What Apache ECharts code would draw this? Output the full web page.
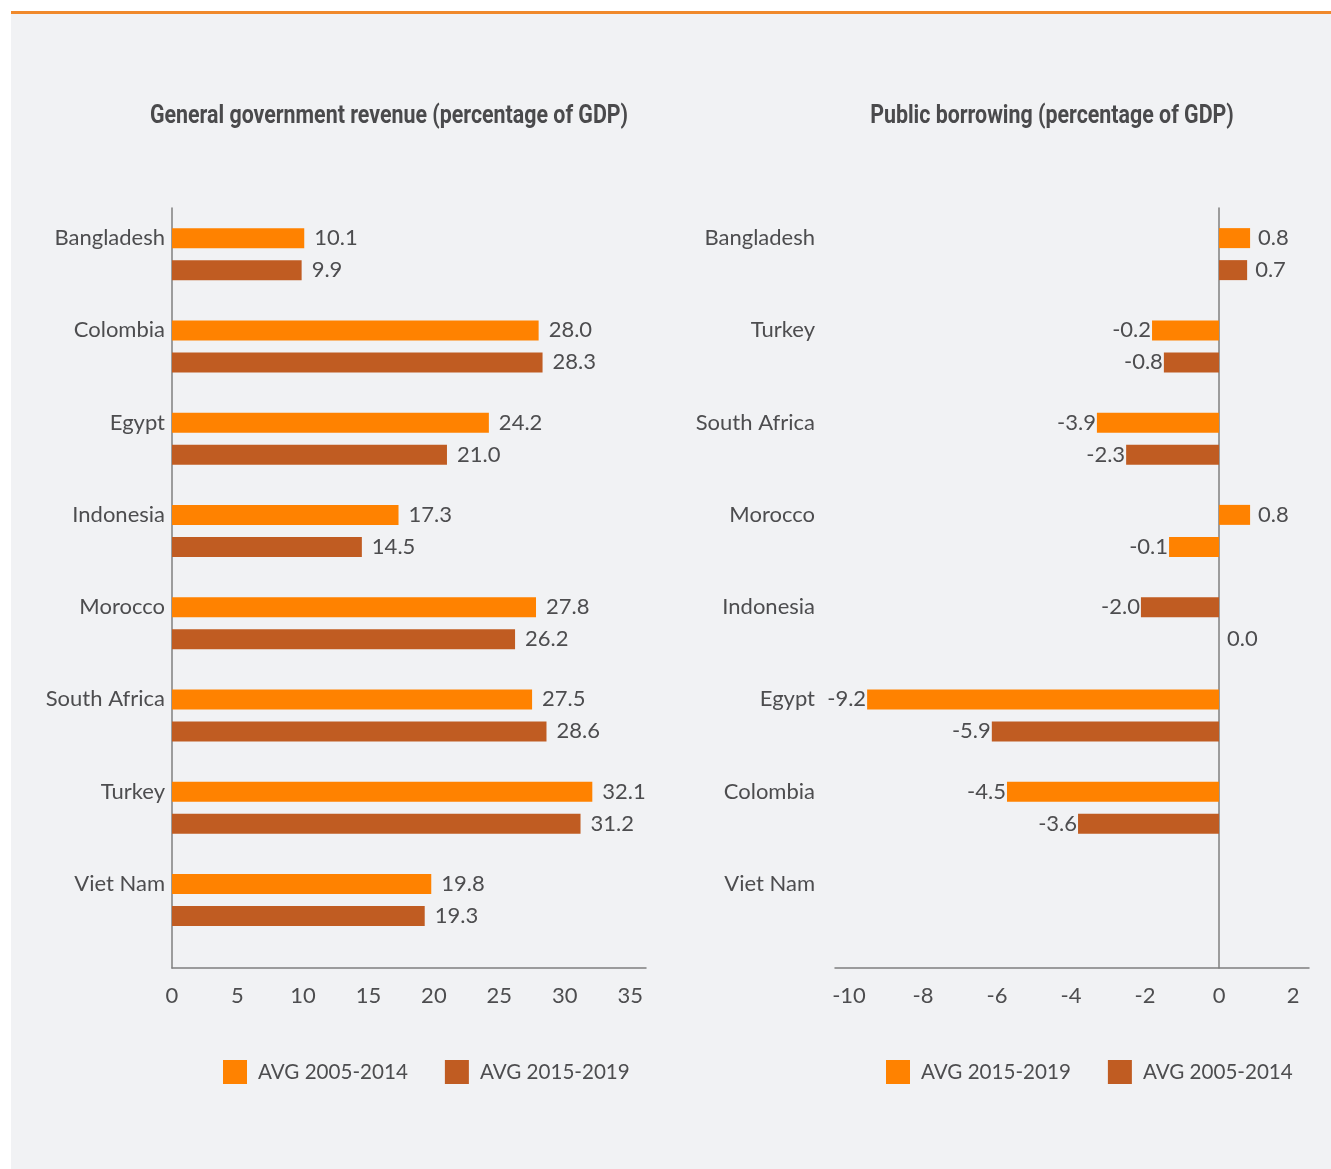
<!DOCTYPE html>
<html>
<head>
<meta charset="utf-8">
<script src="https://cdn.jsdelivr.net/npm/echarts@6/dist/echarts.min.js"></script>
<style>
    html, body { margin: 0; padding: 0; background: #fff; width: 1331px; height: 1169px; overflow: hidden; }
    #panel { position: absolute; left: 11px; top: 11px; width: 1320px; height: 1155px; background: #f1f2f4; border-top: 3px solid #f0892b; }
    #revenue { position: absolute; left: 0; top: 0; width: 665px; height: 1169px; }
    #borrowing { position: absolute; left: 665px; top: 0; width: 666px; height: 1169px; }
</style>
</head>
<body>
<div id="panel"></div>
<div id="revenue"></div>
<div id="borrowing"></div>
<script>
// General government revenue (% of GDP)
const revenueCountries = ['Bangladesh', 'Colombia', 'Egypt', 'Indonesia', 'Morocco', 'South Africa', 'Turkey', 'Viet Nam'];
const revenueAvg0514 = [10.1, 28.0, 24.2, 17.3, 27.8, 27.5, 32.1, 19.8];
const revenueAvg1519 = [9.9, 28.3, 21.0, 14.5, 26.2, 28.6, 31.2, 19.3];
const revenueTicks = [0, 5, 10, 15, 20, 25, 30, 35];

// Public borrowing (% of GDP)
// the source chart's bar lengths and printed labels don't agree, so both are kept as drawn
const borrowCountries = ['Bangladesh', 'Turkey', 'South Africa', 'Morocco', 'Indonesia', 'Egypt', 'Colombia', 'Viet Nam'];
const borrowUpperBars = [0.84, -1.81, -3.30, 0.84, -2.11, -9.51, -5.73, null];
const borrowUpperShown = [0.8, -0.2, -3.9, 0.8, -2.0, -9.2, -4.5, null];
const borrowUpperPeriod = ['2015-2019', '2015-2019', '2015-2019', '2015-2019', '2005-2014', '2015-2019', '2015-2019', null];
const borrowLowerBars = [0.76, -1.49, -2.51, -1.35, 0, -6.14, -3.81, null];
const borrowLowerShown = [0.7, -0.8, -2.3, -0.1, 0.0, -5.9, -3.6, null];
const borrowLowerPeriod = ['2005-2014', '2005-2014', '2005-2014', '2015-2019', '2005-2014', '2005-2014', '2005-2014', null];
const borrowTicks = [-10, -8, -6, -4, -2, 0, 2];

const ORANGE = '#ff8200';
const BROWN = '#c05c22';
const TEXT = '#4d4d4f';
const AXIS = '#7f7f7f';
const FONT = "Lato, 'Open Sans', sans-serif";

const labelText = {fontSize: 22, color: TEXT, fontFamily: FONT};

// grid 0 holds the bars, grid 1 only draws the axis lines and tick labels (it runs a bit lower)
function baseOption(o) {
    return {
        animation: false,
        backgroundColor: 'transparent',
        // condensed bold heading: no condensed face installed, so squeeze Roboto
        graphic: [{
            type: 'text', x: o.titleX, y: 117, scaleX: 0.855,
            style: {
                text: o.title, align: 'center', verticalAlign: 'middle',
                font: 'bold 25px Roboto, sans-serif', fill: '#4a4a4c'
            }
        }],
        legend: {
            left: o.legendX, top: 1060, padding: 0, icon: 'rect',
            itemWidth: 24, itemHeight: 24, itemGap: 37,
            data: o.legend,
            textStyle: {fontSize: 20.6, color: TEXT, fontFamily: FONT, padding: [0, 0, 0, 6]}
        },
        grid: [
            {left: o.gridLeft, top: 208, width: 474, height: 738, outerBoundsMode: 'none'},
            {left: o.gridLeft, top: 208, width: 474, height: 760, outerBoundsMode: 'none'}
        ],
        xAxis: [
            {gridIndex: 0, type: 'value', min: o.min, max: o.max, show: false},
            {
                gridIndex: 1, type: 'value', min: o.min, max: o.max,
                axisLine: {show: true, onZero: true, lineStyle: {color: AXIS, width: 1.5}},
                axisTick: {show: false},
                splitLine: {show: false},
                axisLabel: Object.assign({customValues: o.ticks, margin: 17}, labelText)
            }
        ],
        yAxis: [
            {
                gridIndex: 0, type: 'category', inverse: true, data: o.categories,
                axisLine: {show: false, onZero: false},
                axisTick: {show: false},
                // names sit level with the upper bar, not the middle of the pair
                axisLabel: Object.assign({margin: o.catMargin, verticalAlign: 'bottom', lineHeight: 32}, labelText)
            },
            {
                gridIndex: 1, type: 'value', min: 0, max: 1,
                axisLine: {show: true, onZero: true, lineStyle: {color: AXIS, width: 1.5}},
                axisTick: {show: false},
                axisLabel: {show: false},
                splitLine: {show: false}
            }
        ],
        series: o.series
    };
}

// 左图
const revenueChart = echarts.init(document.getElementById('revenue'));
const revenueBar = (name, values, color) => ({
    type: 'bar', name, data: values, xAxisIndex: 0, yAxisIndex: 0,
    barWidth: 20, barGap: '60%',
    itemStyle: {color},
    label: Object.assign({show: true, position: 'right', distance: 10, formatter: p => p.value.toFixed(1)}, labelText)
});
revenueChart.setOption(baseOption({
    title: 'General government revenue (percentage of GDP)',
    titleX: 389,
    legendX: 223,
    legend: [{name: 'AVG 2005-2014', itemStyle: {color: ORANGE}}, {name: 'AVG 2015-2019', itemStyle: {color: BROWN}}],
    gridLeft: 172,
    min: 0, max: 36.2,
    ticks: revenueTicks,
    categories: revenueCountries,
    catMargin: 7,
    series: [
        revenueBar('AVG 2005-2014', revenueAvg0514, ORANGE),
        revenueBar('AVG 2015-2019', revenueAvg1519, BROWN)
    ]
}));

// 右图
const borrowColors = {'2015-2019': ORANGE, '2005-2014': BROWN};
const borrowChart = echarts.init(document.getElementById('borrowing'));
const borrowBar = (name, bars, shown, periods) => ({
    type: 'bar', name, xAxisIndex: 0, yAxisIndex: 0,
    barWidth: 20, barGap: '60%',
    itemStyle: {color: ORANGE},
    data: bars.map((v, i) => v == null ? '-' : {
        value: v,
        itemStyle: {color: borrowColors[periods[i]]},
        label: {position: v < 0 ? 'left' : 'right', distance: v < 0 ? 1 : 8}
    }),
    label: Object.assign({
        show: true,
        formatter: p => shown[p.dataIndex] == null ? '' : shown[p.dataIndex].toFixed(1)
    }, labelText)
});
borrowChart.setOption(baseOption({
    title: 'Public borrowing (percentage of GDP)',
    titleX: 387,
    legendX: 221,
    legend: [{name: 'AVG 2015-2019', itemStyle: {color: ORANGE}}, {name: 'AVG 2005-2014', itemStyle: {color: BROWN}}],
    gridLeft: 170,
    min: -10.378, max: 2.432,
    ticks: borrowTicks,
    categories: borrowCountries,
    catMargin: 20,
    series: [
        borrowBar('AVG 2015-2019', borrowUpperBars, borrowUpperShown, borrowUpperPeriod),
        borrowBar('AVG 2005-2014', borrowLowerBars, borrowLowerShown, borrowLowerPeriod)
    ]
}));
</script>
</body>
</html>
